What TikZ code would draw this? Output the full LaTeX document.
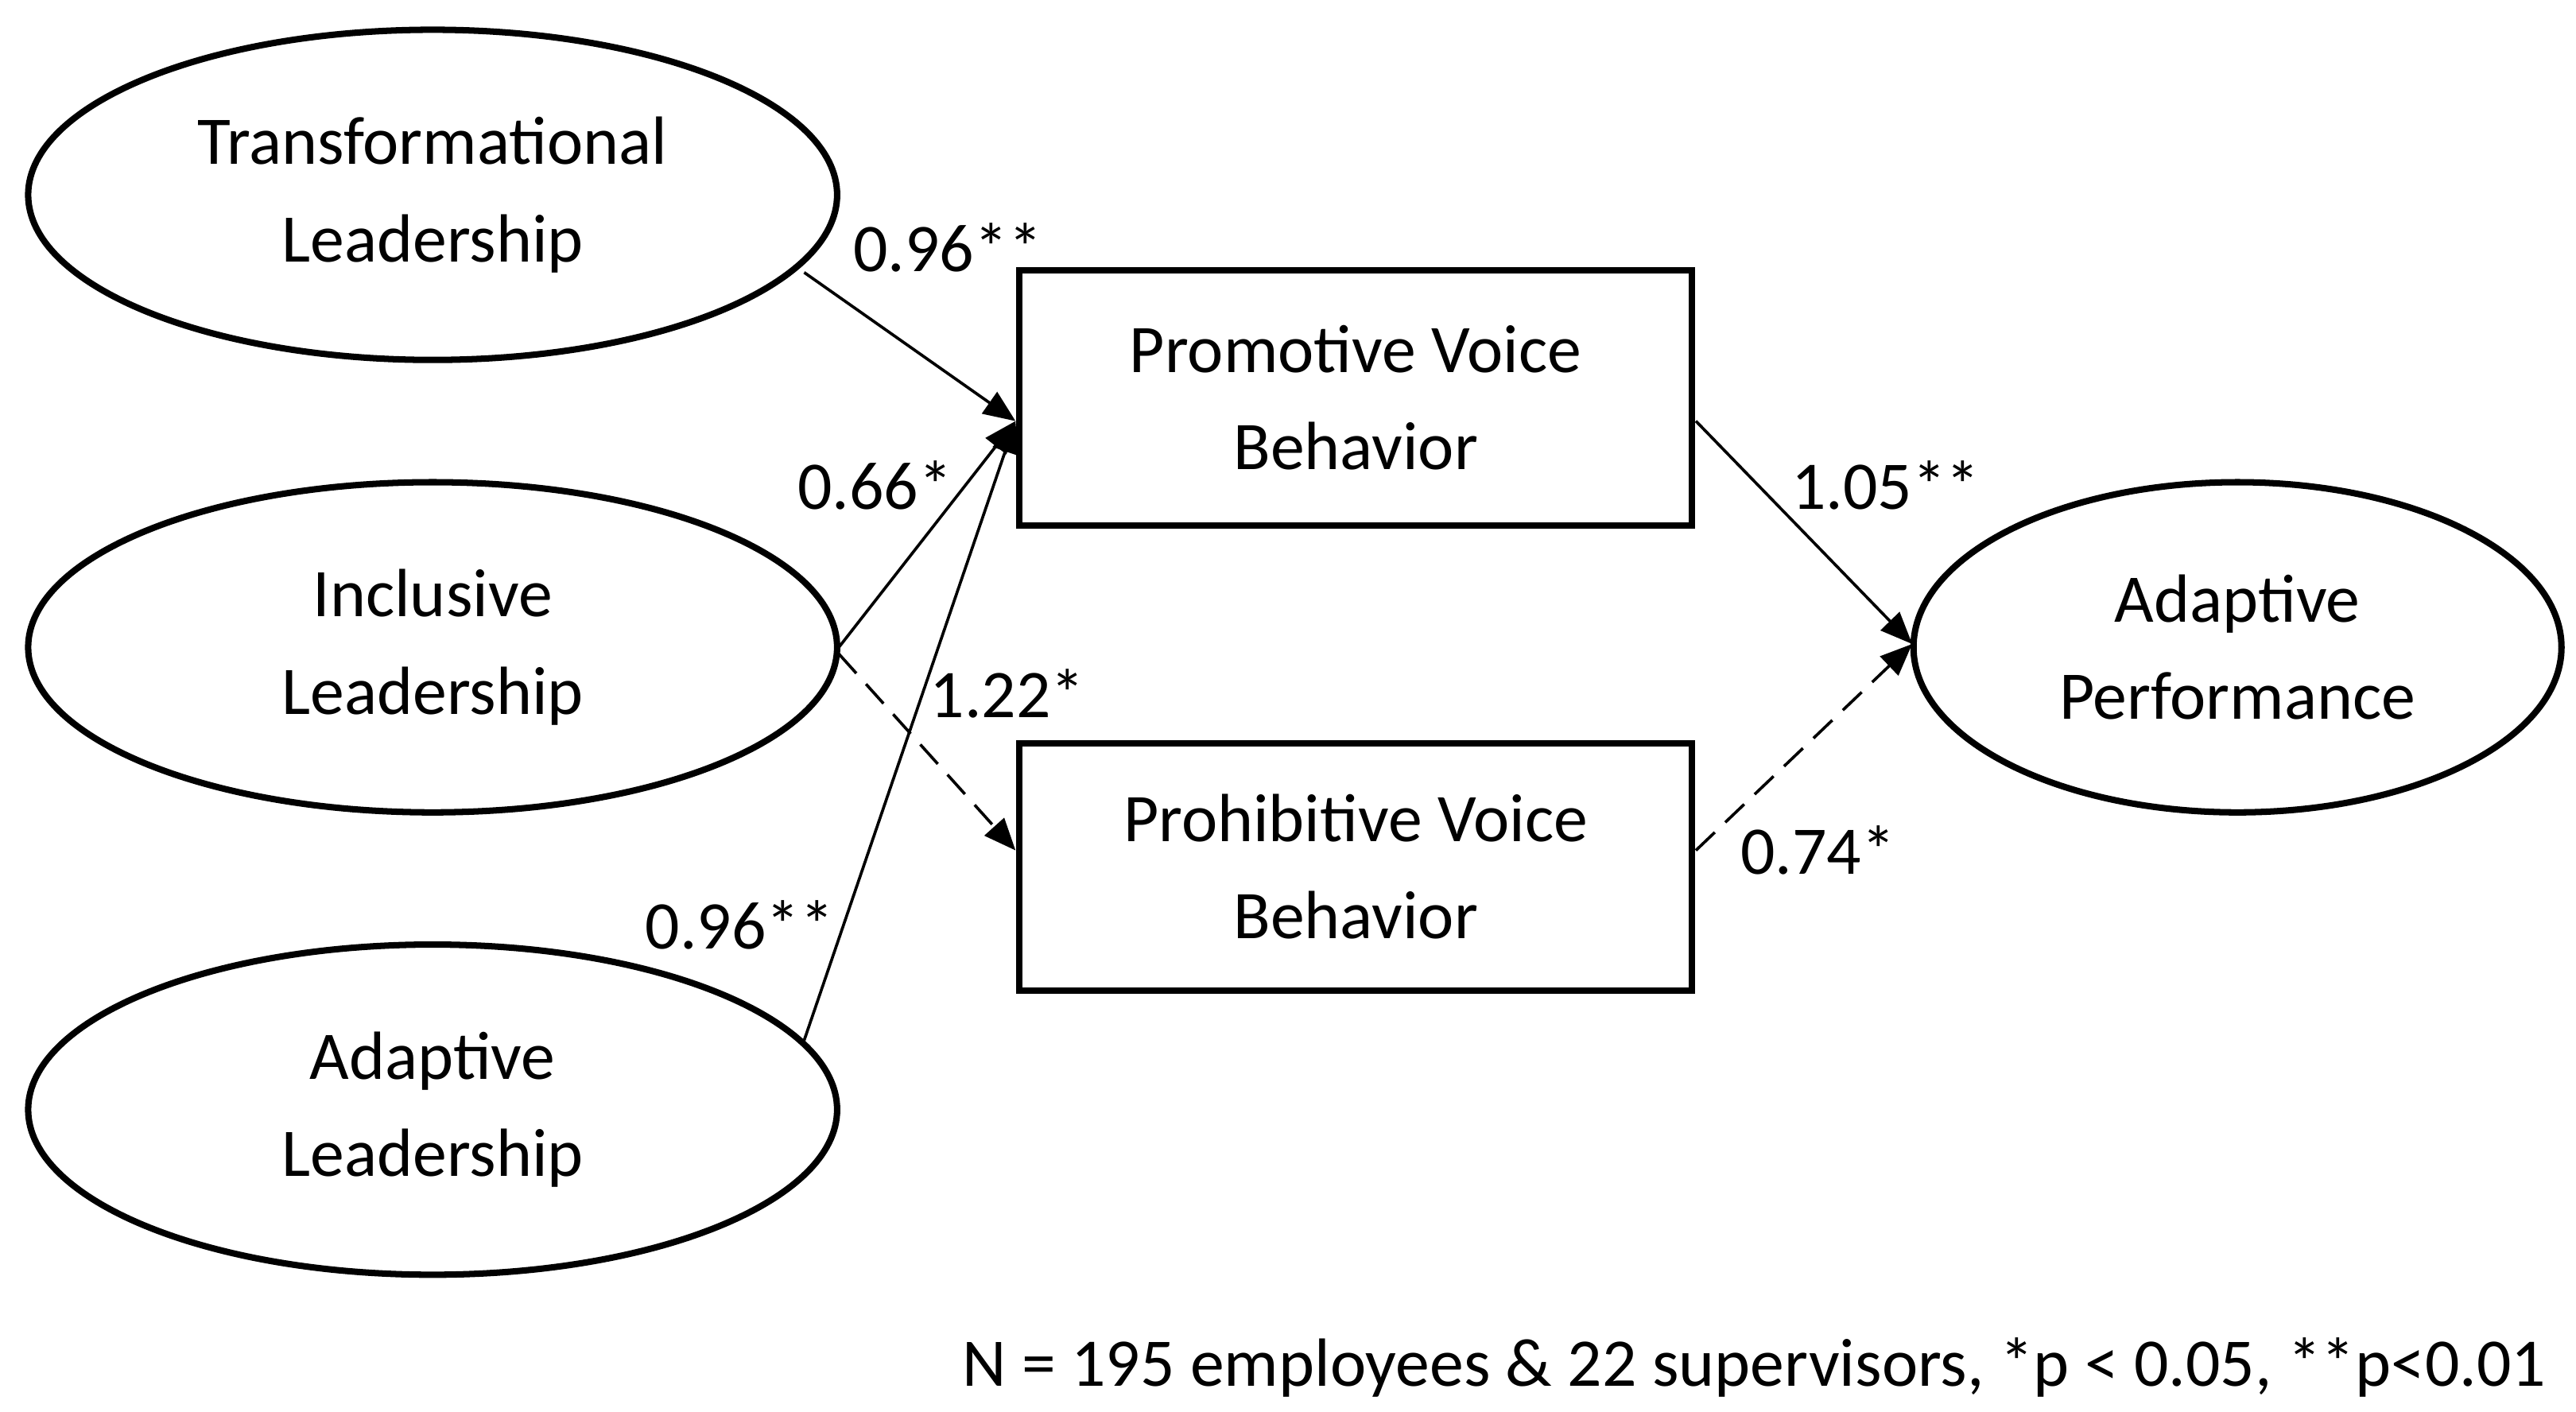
\documentclass[tikz,border=0pt]{standalone}
\usepackage{fontspec}
\setmainfont{Carlito}
\usetikzlibrary{shapes.geometric,arrows.meta}
\begin{document}
\begin{tikzpicture}[x=0.02cm,y=-0.02cm,
  lat/.style={ellipse,draw,line width=2.2pt,minimum width=9.8cm,minimum height=4cm,align=center,font=\fontsize{23.5}{33.5}\selectfont,inner sep=0pt},
  obs/.style={rectangle,draw,line width=2.2pt,minimum width=8.15cm,minimum height=3.1cm,align=center,font=\fontsize{23.5}{33.5}\selectfont},
  lab/.style={font=\fontsize{23.5}{28}\selectfont},
  arr/.style={-{Triangle[length=11pt,width=9pt]},line width=1pt},
  darr/.style={arr,dash pattern=on 9pt off 5pt}]
\useasboundingbox (0,0) rectangle (1560,855);
\node[lat] (tl) at (262,118) {Transformational\\Leadership};
\node[lat] (il) at (262,392) {Inclusive\\Leadership};
\node[lat] (al) at (262,672) {Adaptive\\Leadership};
\node[lat,minimum width=7.85cm] (ap) at (1355,392) {Adaptive\\Performance};
\node[obs] (pv) at (821,241) {Promotive Voice\\Behavior};
\node[obs,minimum height=3cm] (hv) at (821,525) {Prohibitive Voice\\Behavior};
\coordinate (pin) at (615,255);
\coordinate (hin) at (615,515);
\coordinate (pout) at (1027,255);
\coordinate (hout) at (1027,515);
\coordinate (apin) at (1158,390);
\coordinate (tls) at (487,165);
\coordinate (ils) at (508,392);
\coordinate (ils2) at (508,396);
\coordinate (als) at (487,630);
\draw[arr] (tls) -- (pin);
\draw[arr] (ils) -- (pin);
\draw[arr] (als) -- (pin);
\draw[darr] (ils2) -- (hin);
\draw[arr] (pout) -- (apin);
\draw[darr] (hout) -- (apin);
\node[lab] (l1) at (574,150) {0.96**};
\node[lab] (l2) at (530,294) {0.66*};
\node[lab] (l3) at (610,420) {1.22*};
\node[lab] (l4) at (448,560) {0.96**};
\node[lab] (l5) at (1142,294) {1.05**};
\node[lab] (l6) at (1101,515) {0.74*};
\node[lab,anchor=east] (n) at (1548,828) {N = 195 employees \& 22 supervisors, *p < 0.05, **p<0.01};
\end{tikzpicture}
\end{document}
